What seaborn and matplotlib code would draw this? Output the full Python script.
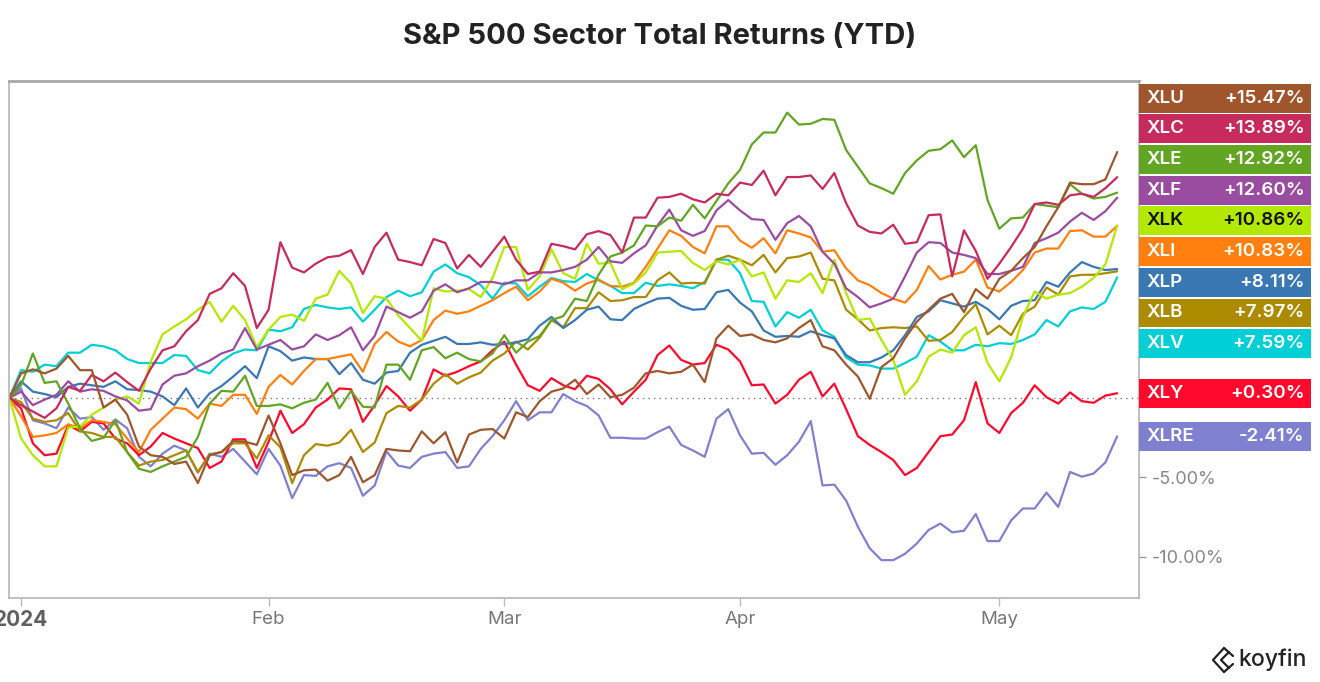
import pandas as pd
import seaborn as sns
import matplotlib
matplotlib.use("Agg")
import matplotlib.pyplot as plt
import matplotlib.transforms as mtransforms
from matplotlib.patches import Rectangle

# Sector ETF tickers, line colours and label text colours
tickers = ["XLU", "XLC", "XLE", "XLF", "XLK", "XLI", "XLP", "XLB", "XLV", "XLY", "XLRE"]
colors = ["#a0562c", "#c72a5c", "#62a523", "#9a4ca0", "#b3e800", "#ff800e",
          "#3a78b4", "#ad8b00", "#00d0d5", "#ff0a2c", "#8080d0"]
text_colors = ["white", "white", "white", "white", "#111111", "white",
               "white", "white", "white", "white", "white"]

# cumulative total return (%) per trading day, Dec 29 2023 -> May 15 2024
xlu = [0, 1.55, 1.8, 1.55, 1.85, 2.65, 1.75, 1.75, -0.6, -0.1, -1.05, -3.05, -3.6, -3.7, -4.15, -4.0,
       -5.35, -3.6, -3.4, -2.7, -2.75, -2.95, -1.1, -2.85, -4.85, -4.55, -4.5, -5.2, -4.85, -3.7, -5.3,
       -4.85, -3.2, -3.3, -3.35, -2.1, -2.85, -2.15, -4.05, -2.3, -2.0, -1.95, -2.55, -0.9, -1.2, -0.2,
       0.4, 0.6, 1.15, 0.25, 0.85, 0.05, 0.2, 0.65, 1.55, 1.7, 1.55, 1.65, 2.1, 1.0, 3.75, 4.55, 3.9,
       4.0, 3.65, 3.5, 3.75, 4.4, 4.9, 3.25, 3.0, 2.1, 1.35, -0.05, 1.95, 2.5, 3.75, 4.8, 5.55, 6.25,
       6.55, 5.4, 6.85, 6.25, 7.5, 8.0, 8.8, 9.5, 10.8, 12.0, 13.55, 13.45, 13.45, 13.75, 15.47]
xlc = [0, -0.45, -0.85, -1.25, -0.65, 0.7, 0.45, 1.45, 1.05, 1.6, 1.0, 0.45, 1.85, 3.0, 3.25, 4.2,
       4.9, 6.55, 6.9, 7.85, 7.05, 4.4, 5.55, 9.8, 8.2, 7.9, 8.45, 8.85, 8.95, 9.3, 7.8, 9.5, 10.4,
       8.7, 8.55, 8.35, 10.0, 9.75, 8.15, 9.0, 8.25, 9.2, 10.15, 8.7, 7.8, 7.95, 9.7, 9.55, 9.35, 10.3,
       10.5, 10.25, 9.15, 11.35, 11.35, 12.6, 12.65, 12.85, 12.5, 12.3, 12.85, 12.75, 13.55, 13.4,
       14.3, 12.75, 13.9, 13.9, 14.0, 13.15, 14.15, 12.25, 10.85, 10.45, 10.35, 10.9, 9.7, 9.8, 11.5,
       11.55, 7.65, 10.55, 9.25, 7.5, 8.45, 9.5, 10.65, 12.2, 12.3, 12.15, 12.75, 12.85, 12.65, 13.2,
       13.89]
xle = [0, 0.8, 2.8, 0.95, 1.05, -0.35, -1.9, -2.7, -2.5, -1.4, -3.4, -4.45, -4.65, -4.3, -4.0, -3.7,
       -2.45, -0.35, 0.45, 0.4, 1.4, -0.5, -0.5, -0.4, -0.65, -0.3, -0.1, 0.95, -0.65, 0.45, -0.55,
       -0.6, 2.1, 2.1, 1.15, 3.0, 3.2, 2.5, 2.85, 2.45, 2.3, 2.8, 3.95, 2.85, 3.55, 3.9, 4.9, 5.15,
       6.25, 6.1, 7.75, 8.9, 9.15, 9.6, 10.85, 10.8, 11.35, 11.15, 12.15, 11.3, 12.4, 13.5, 14.35,
       15.95, 16.7, 16.7, 17.95, 17.2, 17.25, 17.55, 17.5, 15.6, 14.55, 13.5, 13.2, 12.85, 14.15,
       14.95, 15.55, 15.65, 16.2, 15.15, 15.9, 12.45, 10.65, 11.3, 11.35, 12.2, 12.1, 12.0, 13.45,
       12.85, 12.55, 12.65, 12.92]
xlf = [0, 0.4, -0.45, -0.1, 0.2, 1.05, 0.4, 0.55, 0.45, 0.1, -0.15, -0.8, -0.7, 0.85, 1.4, 1.55,
       2.0, 2.35, 2.8, 3.05, 4.4, 3.05, 3.35, 3.65, 3.05, 3.25, 4.0, 3.65, 3.95, 4.45, 3.0, 3.9, 5.75,
       5.4, 5.05, 5.45, 6.75, 7.15, 6.65, 6.9, 7.3, 7.3, 7.15, 7.4, 7.4, 7.9, 7.9, 8.05, 8.25, 8.7,
       9.5, 8.6, 8.5, 9.1, 9.6, 10.85, 11.85, 10.55, 10.2, 10.5, 11.8, 12.45, 11.8, 11.25, 11.2, 9.95,
       11.0, 11.45, 10.8, 9.2, 8.45, 6.9, 6.35, 5.7, 5.95, 6.25, 7.65, 9.15, 9.8, 9.75, 9.15, 9.0,
       8.8, 7.8, 7.8, 8.0, 8.25, 9.75, 10.05, 10.4, 11.1, 11.65, 11.2, 11.75, 12.60]
xlk = [0, -2.55, -3.6, -4.3, -4.3, -1.85, -1.8, -1.05, -0.6, -0.1, 0.1, -0.35, 2.3, 4.0, 4.5, 4.95,
       5.55, 6.05, 4.8, 5.8, 4.9, 3.2, 4.3, 5.1, 5.25, 4.85, 6.25, 6.5, 8.0, 7.2, 5.35, 6.4, 6.25, 5.2,
       4.4, 3.6, 6.9, 6.7, 6.75, 6.85, 6.35, 7.55, 9.5, 9.5, 6.8, 7.65, 9.35, 7.85, 7.5, 9.7, 8.45,
       8.5, 6.85, 7.2, 7.9, 9.15, 9.2, 9.25, 8.5, 8.05, 8.6, 8.4, 8.7, 7.65, 7.9, 6.25, 7.4, 7.3,
       7.85, 6.6, 8.7, 6.6, 4.9, 5.0, 3.65, 2.4, 0.2, 1.05, 2.6, 3.05, 2.85, 3.95, 4.45, 2.2, 1.05,
       2.55, 5.1, 6.7, 6.25, 6.5, 6.6, 7.0, 7.55, 8.4, 10.86]
xli = [0, -1.15, -2.45, -2.35, -2.2, -1.65, -1.9, -1.4, -1.5, -1.65, -2.55, -3.4, -2.0, -1.3, -0.6,
       -0.7, -1.3, -0.35, -0.5, 0.2, 0.2, -1.0, 0.7, 1.45, 0.85, 1.7, 2.45, 2.45, 2.6, 2.75, 1.65,
       3.4, 4.15, 3.55, 3.25, 3.65, 4.9, 5.5, 5.3, 5.45, 5.8, 6.15, 6.6, 7.0, 6.15, 6.7, 7.5, 7.25,
       6.75, 7.2, 7.45, 7.05, 7.0, 7.25, 8.25, 9.4, 10.55, 10.2, 9.5, 9.1, 10.8, 10.8, 9.9, 9.45,
       10.05, 9.1, 10.55, 10.35, 10.1, 9.2, 9.3, 8.15, 7.4, 7.1, 6.6, 6.25, 6.0, 6.8, 8.3, 7.45, 7.75,
       7.95, 8.7, 6.95, 6.7, 7.3, 8.05, 9.15, 9.4, 9.4, 10.5, 10.55, 10.15, 10.15, 10.83]
xlp = [0, 1.05, 0.4, 0.25, 0.05, 0.7, 0.9, 0.8, 0.7, 1.05, 0.55, 0.5, 0.4, 0.1, -0.45, 0.6, -0.6,
       0.3, 0.75, 1.35, 2.0, 1.25, 3.25, 2.95, 2.35, 2.55, 2.45, 2.45, 1.5, 2.2, 1.15, 0.9, 1.6, 1.7,
       2.85, 3.35, 3.6, 3.85, 3.4, 3.4, 3.5, 3.35, 3.4, 3.5, 3.7, 4.55, 5.1, 4.4, 4.9, 5.55, 5.75,
       4.95, 4.9, 5.6, 5.95, 6.25, 6.3, 5.8, 5.55, 5.6, 6.65, 6.8, 6.0, 5.45, 4.25, 3.85, 3.9, 3.85,
       4.2, 3.95, 3.75, 2.7, 2.25, 2.25, 2.55, 3.0, 3.95, 5.1, 5.45, 6.15, 5.95, 5.75, 6.05, 5.6, 4.95,
       5.8, 6.1, 6.15, 7.3, 7.0, 7.9, 8.55, 8.25, 8.05, 8.11]
xlb = [0, -0.25, -1.3, -1.5, -1.4, -0.95, -2.1, -2.2, -2.45, -2.45, -3.4, -4.25, -4.0, -3.9, -3.6,
       -3.3, -4.65, -3.55, -3.4, -2.85, -2.85, -3.8, -2.35, -3.1, -5.35, -3.6, -2.9, -3.0, -2.8, -2.0,
       -3.4, -2.8, -0.95, -0.5, -0.6, -0.1, 0.9, 1.5, 0.9, 1.3, 1.6, 2.35, 2.8, 3.55, 3.05, 3.8, 4.9,
       4.45, 5.65, 5.65, 6.65, 6.1, 6.15, 6.35, 6.35, 7.4, 7.9, 7.2, 7.25, 7.2, 8.7, 8.95, 8.7, 8.35,
       9.0, 7.9, 8.8, 8.9, 9.15, 7.5, 7.4, 5.55, 4.95, 4.25, 4.4, 4.45, 4.4, 4.5, 3.6, 3.65, 4.15,
       5.1, 5.9, 4.0, 4.55, 3.95, 5.3, 5.75, 6.95, 6.5, 7.65, 7.75, 7.75, 7.85, 7.97]
xlv = [0, 1.75, 1.65, 2.1, 2.0, 2.85, 2.85, 3.35, 3.25, 3.0, 2.45, 2.2, 2.2, 2.2, 2.7, 2.65, 1.75,
       1.55, 2.3, 2.8, 3.05, 3.0, 4.3, 4.2, 4.45, 5.6, 5.85, 5.7, 5.6, 5.7, 4.8, 5.55, 6.35, 6.75, 6.4,
       6.65, 7.95, 8.4, 7.85, 7.6, 7.1, 6.25, 7.25, 7.2, 6.4, 7.0, 7.55, 7.35, 7.3, 7.8, 7.4, 7.05,
       6.6, 6.6, 7.25, 7.05, 7.15, 7.05, 6.9, 7.3, 8.7, 8.7, 7.85, 6.1, 6.05, 4.5, 5.4, 5.05, 5.55,
       4.25, 3.85, 2.55, 2.1, 2.05, 1.85, 1.85, 2.2, 2.6, 3.95, 3.55, 3.0, 3.0, 3.35, 3.25, 3.45, 3.4,
       3.65, 4.0, 4.9, 4.5, 5.45, 5.7, 5.6, 6.05, 7.59]
xly = [0, -0.65, -2.85, -3.6, -3.5, -1.7, -2.1, -1.5, -1.6, -2.55, -2.85, -3.6, -3.05, -2.2, -2.55,
       -2.85, -3.15, -4.4, -4.0, -2.6, -2.6, -4.4, -2.75, -0.8, -2.2, -1.65, -0.6, -0.1, 0.6, 0.55,
       -1.5, -0.45, 0.75, 0.1, -0.8, -0.1, 1.8, 1.4, 1.65, 2.0, 2.3, 3.0, 3.55, 2.1, 0.8, 0.45, 1.25,
       0.8, 0.55, 1.4, 1.2, 0.55, -0.4, 0.4, 1.15, 2.7, 3.3, 2.4, 2.1, 2.2, 3.35, 3.05, 2.3, 0.8, 0.85,
       -0.35, 0.2, 1.15, 1.65, 0.1, 0.9, -0.7, -2.4, -2.95, -3.4, -3.9, -4.85, -4.4, -3.4, -2.4, -2.3,
       -1.4, 1.0, -1.6, -2.2, -0.95, -0.3, 0.8, 0.05, -0.35, 0.35, -0.2, -0.3, 0.15, 0.30]
xlre = [0, 0.6, -1.4, -1.6, -1.9, -0.6, -1.3, -1.2, -2.0, -1.35, -1.9, -3.7, -4.3, -3.5, -3.0, -3.3,
        -4.7, -3.5, -3.7, -3.2, -4.0, -4.8, -3.2, -4.25, -6.3, -4.85, -4.9, -4.3, -4.1, -4.4, -6.15,
        -5.5, -3.35, -4.25, -4.4, -3.7, -3.5, -3.4, -4.4, -4.3, -3.2, -2.4, -1.4, -0.2, -1.4, -0.9,
        -0.9, 0.25, -0.2, -0.5, -1.1, -2.5, -2.5, -2.55, -2.55, -2.15, -1.8, -2.95, -3.3, -3.7, -1.3,
        -0.7, -2.35, -3.5, -3.45, -4.2, -3.6, -2.75, -1.45, -5.5, -5.45, -6.45, -8.1, -9.45, -10.2,
        -10.2, -9.8, -9.15, -8.3, -7.9, -8.45, -8.35, -7.3, -9.0, -9.0, -7.7, -6.95, -6.95, -5.95,
        -6.85, -4.65, -4.95, -4.75, -4.05, -2.41]

series = dict(zip(tickers, [xlu, xlc, xle, xlf, xlk, xli, xlp, xlb, xlv, xly, xlre]))

dates = pd.bdate_range("2023-12-29", "2024-05-15", freq="C",
                       holidays=["2024-01-01", "2024-01-15", "2024-02-19", "2024-03-29"])

frames = []
for t in tickers:
    frames.append(pd.DataFrame({"pos": range(len(dates)), "date": dates,
                                "ret": series[t], "ticker": t}))
df = pd.concat(frames, ignore_index=True)

sns.set_style("white")
plt.rcParams["font.family"] = ["Inter", "DejaVu Sans"]

W, H = 1320, 682
fig = plt.figure(figsize=(W / 100, H / 100), dpi=100)
ax = fig.add_axes([9.3 / W, 1 - 598 / H, (1139 - 9.3) / W, (598 - 81) / H])

sns.lineplot(data=df, x="pos", y="ret", hue="ticker", hue_order=tickers[::-1],
             palette=dict(zip(tickers, colors)), estimator=None, sort=False,
             legend=False, lw=1.6, ax=ax)

ax.axhline(0, color="#777777", lw=1.0, ls=(0, (1, 3)), zorder=0)
ax.set_xlim(0, 95.85)
ax.set_ylim(-12.58, 19.94)
ax.set_xlabel("")
ax.set_ylabel("")

# month ticks at the first trading day of each month
months = dates[1:].to_period("M")
tick_pos, tick_lab = [], []
for i, m in enumerate(months):
    if i == 0 or m != months[i - 1]:
        tick_pos.append(i + 1)
        tick_lab.append(str(m.year) if m.month == 1 else dates[i + 1].strftime("%b"))
ax.set_xticks(tick_pos)
ax.set_xticklabels(tick_lab)
ax.tick_params(axis="x", bottom=True, length=6, width=1, color="#bbbbbb",
               labelsize=13.5, labelcolor="#777777", pad=3)
first = ax.get_xticklabels()[0]
first.set_color("#606060")
first.set_fontweight("bold")
first.set_fontsize(15)

ax.yaxis.tick_right()
ax.set_yticks([-10, -5])
ax.set_yticklabels(["-10.00%", "-5.00%"])
ax.tick_params(axis="y", right=True, length=5, width=1, color="#999999",
               labelsize=13, labelcolor="#888888", pad=4)

for s in ax.spines.values():
    s.set_color("#b5b5b5")
    s.set_linewidth(1.2)
ax.spines["top"].set_linewidth(2)
ax.spines["top"].set_color("#a8a8a8")

# end labels: spread overlapping ones around the mean of their values
gap, box_h = 1.93, 1.82
order = sorted(tickers, key=lambda t: -series[t][-1])
clusters = []
for t in order:
    clusters.append([t])
    while len(clusters) > 1:
        a, b = clusters[-2], clusters[-1]
        ca = sum(series[t][-1] for t in a) / len(a)
        cb = sum(series[t][-1] for t in b) / len(b)
        a_bottom = ca - (len(a) - 1) * gap / 2
        b_top = cb + (len(b) - 1) * gap / 2
        if a_bottom - b_top < gap:
            clusters[-2:] = [a + b]
        else:
            break
label_y = {}
for c in clusters:
    centre = sum(series[t][-1] for t in c) / len(c)
    top = centre + (len(c) - 1) * gap / 2
    for k, t in enumerate(c):
        label_y[t] = top - k * gap

trans = mtransforms.blended_transform_factory(ax.transAxes, ax.transData)
box_w = (1311 - 1139) / (1139 - 9.3)
for t, col, tc in zip(tickers, colors, text_colors):
    y = label_y[t]
    ax.add_patch(Rectangle((1.0, y - box_h / 2), box_w, box_h, transform=trans,
                           facecolor=col, edgecolor="none", clip_on=False, zorder=5))
    v = series[t][-1]
    ax.text(1.0065, y, t, transform=trans, color=tc, fontsize=13.5, fontweight="semibold",
            ha="left", va="center", zorder=6, clip_on=False)
    ax.text(1.1465, y, f"{v:+.2f}%", transform=trans, color=tc, fontsize=13.5,
            fontweight="semibold", ha="right", va="center", zorder=6, clip_on=False)

fig.text(0.5, 1 - 37 / H, "S&P 500 Sector Total Returns (YTD)", ha="center", va="center",
         fontsize=21, fontweight="bold", color="#222222")

# koyfin mark
def fx(px):
    return px / W

def fy(py):
    return 1 - py / H

for pts in ([(1224, 648), (1213, 660), (1224, 672)],
            [(1229, 652), (1221, 660), (1229, 668)],
            [(1224, 648), (1233, 656)],
            [(1224, 672), (1233, 664)]):
    fig.add_artist(plt.Line2D([fx(p[0]) for p in pts], [fy(p[1]) for p in pts],
                              color="#222222", lw=1.6))
fig.text(fx(1238), fy(660), "koyfin", ha="left", va="center", fontsize=16.5,
         fontweight="medium", color="#222222")

fig.savefig("out.png", dpi=100)
